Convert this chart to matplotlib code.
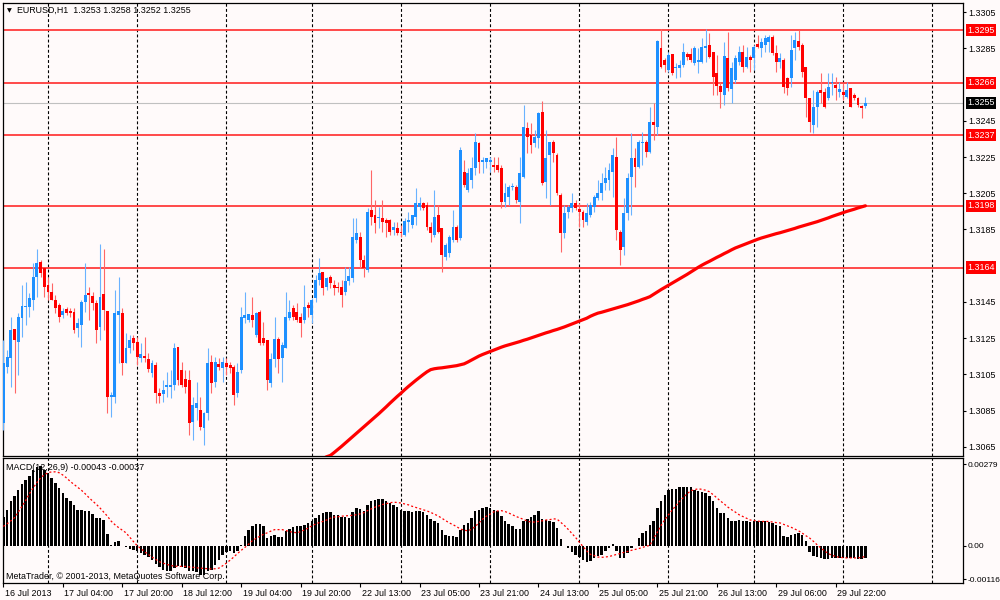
import numpy as np
import matplotlib
matplotlib.use("Agg")
import matplotlib.pyplot as plt
from matplotlib.transforms import blended_transform_factory, ScaledTranslation

plt.rcParams['font.family'] = ['Liberation Sans', 'DejaVu Sans']

# ---------------- data (prices as pips above 1.3000) ----------------
BASE = 1.3
PIP = 0.0001

open_pips = [
    78, 109.2, 113.8, 130, 123, 135.9, 142, 142.3, 146, 158.9,
    166.8, 163.5, 154.3, 150.6, 146, 143.3, 137.7, 140.9, 140, 139.6,
    130.4, 132.2, 145.1, 150, 148.2, 144.2, 131.3, 149.2, 140, 92.6,
    92.6, 137.7, 138.7, 111, 119.3, 124.8, 123, 113.8, 115.1, 113.2,
    105.5, 110.1, 94.5, 94.1, 98.1, 98.1, 99.1, 119.9, 107.4, 102.7,
    101.8, 78.8, 86.2, 85.2, 75.1, 83.4, 112, 100.9, 110.6, 108.3,
    111, 110.1, 109.2, 94.5, 107.4, 135.9, 135, 137.7, 126.7, 139.6,
    124.8, 123.9, 100, 113.3, 124.3, 113.8, 119.3, 135.9, 141.4, 139.6,
    136.8, 135, 143.3, 137.7, 147, 157.1, 161.7, 153.4, 158.9, 154.3,
    153.4, 153.4, 150.6, 156.7, 158, 179.2, 181.1, 168.2, 162.7, 195.8,
    193, 191.2, 191.2, 190.2, 190.2, 184.7, 186, 183.8, 182, 189.3,
    187.5, 192.1, 197.6, 199.5, 198.5, 186.6, 182, 193, 185.6, 170,
    171.8, 179.2, 186.6, 180.1, 217, 206.9, 212.4, 218.8, 232.6, 222.5,
    222.5, 222.5, 220.7, 220.7, 218.8, 200.4, 203.2, 208.7, 208.7, 200.4,
    214.2, 240.9, 237.2, 232.6, 235.4, 250.1, 211.5, 226.2, 233.6, 226.2,
    204.1, 182.9, 194.4, 196.7, 199.5, 196.2, 194.4, 189.3, 193, 197.6,
    202.3, 205, 210.5, 212.4, 217, 225.3, 183.8, 175.5, 194, 214.2,
    224.3, 219.7, 232.6, 233.6, 228, 244.2, 241.8, 285.1, 278.6, 273.1,
    282, 274.1, 274.4, 275.9, 282, 282, 276.8, 277.7, 277.7, 285.5,
    286.9, 282.9, 271.3, 264.5, 259.3, 279.6, 262.5, 267.6, 277.7, 283.2,
    275, 280.5, 279.6, 287.3, 285.1, 286.9, 288.8, 291.5, 282.3, 277.7,
    278.6, 268.5, 268.5, 285.1, 289.1, 286.9, 275, 257.5, 242.7, 252.9,
    262.1, 261.1, 257.5, 265.7, 264.8, 261.1, 261.1, 258.4, 263, 259.3,
    257.5, 253.4, 253,
]
high_pips = [
    124, 118.4, 136.8, 130, 138.7, 154.3, 156, 149.7, 166.3, 174.2,
    168.1, 163.5, 158.9, 155.2, 148.8, 144.2, 141.4, 142.3, 141.4, 141.4,
    135.9, 146, 166.3, 153.4, 150.6, 146, 177, 174.2, 140, 95,
    151.5, 158.9, 141.4, 127.6, 126.7, 126.7, 125.8, 122.1, 125.8, 116.6,
    112.9, 112, 97.2, 101.8, 106.4, 107.4, 122.1, 120.2, 112, 107.4,
    107.4, 92.6, 100.9, 92.6, 84.3, 119.3, 115.6, 114.7, 113.8, 114.7,
    113.8, 112, 110.1, 111, 142.4, 150.6, 138.6, 147.9, 139.6, 140.5,
    134.1, 123.9, 116.6, 136.8, 125.8, 123, 150.6, 146, 143.3, 144.2,
    138.7, 154.3, 145.1, 147, 159.9, 169.1, 161.7, 158.9, 159.9, 157.1,
    156.2, 157.1, 164.5, 164.5, 191.2, 191.2, 183.8, 170.9, 196.7, 217.9,
    201.3, 197.6, 201.3, 191.2, 190.6, 189.3, 189.3, 187.5, 191.2, 194.9,
    193, 207.7, 203.1, 200.4, 200.4, 189.3, 206.8, 198.5, 185.6, 177.4,
    182, 195.8, 187.5, 230.8, 223.4, 218.8, 225.3, 238.2, 233.6, 225.3,
    224.4, 225.3, 225.3, 225.3, 220.7, 210.5, 209.6, 210.5, 209.6, 225.3,
    253.8, 244.6, 243.7, 240, 250.1, 255.7, 240, 233.6, 234.5, 227.1,
    205, 198.6, 198.6, 205, 201.3, 199.5, 195.8, 199.5, 200.4, 204.1,
    212.4, 216.1, 219.7, 221.6, 229.9, 236.3, 184.7, 202.3, 216.1, 238.2,
    229.9, 234.5, 239.1, 234.5, 252.9, 254.7, 289.7, 295.8, 279.6, 283.2,
    282, 276.8, 278.6, 287.8, 283.2, 285.1, 286.6, 285.1, 290.6, 295.8,
    293.4, 282.9, 281.4, 266.7, 288.8, 294.3, 277.7, 281.4, 286.6, 286.9,
    286, 281.4, 286.9, 292.5, 290.6, 292.5, 292.5, 292.5, 286.9, 282.3,
    279.6, 269.4, 292.5, 294.3, 295.2, 287.8, 275, 257.5, 262, 262,
    271.3, 263, 271.3, 271.3, 269.4, 266.7, 265.7, 266.7, 263.3, 260.2,
    258.4, 253.8, 258,
]
low_pips = [
    74, 105.5, 98.1, 94.5, 104.6, 125.8, 132.2, 136.8, 140.5, 147.9,
    158.9, 147.9, 146, 146, 138.7, 134.1, 135.9, 137.7, 136.4, 127.6,
    125.8, 120.2, 139.6, 135, 140.5, 122.1, 123.9, 129.4, 83.4, 81.5,
    88.9, 111, 104.6, 111, 116.6, 118.4, 110.1, 112, 112, 106.4,
    103.7, 88.9, 88.9, 89.9, 92.6, 91.7, 96.3, 99.1, 98.1, 94.5,
    71.4, 68.7, 79.7, 74.2, 65.9, 79.7, 94.5, 98.1, 107.4, 100.9,
    104.6, 105.5, 88, 92.6, 105.5, 133.1, 134.1, 131.3, 125.8, 121.2,
    121.2, 96.3, 98.1, 109.2, 105.5, 100.9, 119.3, 135, 135, 134.1,
    125.8, 133.1, 136.8, 133.1, 145.1, 154.3, 148.8, 151.5, 152.5, 148.8,
    150.6, 142.4, 148.8, 154.3, 156.2, 177.4, 163.6, 159, 161.7, 187.5,
    182.9, 185.6, 183.8, 181.1, 182, 182, 182, 181.1, 181.4, 183.8,
    185.6, 187.5, 195.8, 195.8, 184.7, 178.3, 181.1, 182.9, 161.7, 168.2,
    170, 178.3, 178.3, 179.2, 208.7, 205.9, 207.8, 215.1, 216.1, 216.1,
    218.8, 217, 217, 217, 196.7, 197.6, 198.6, 206.9, 199.5, 188.4,
    213.3, 227.1, 227.1, 230.8, 229.9, 209.6, 202.3, 198.6, 222.5, 204.1,
    172.8, 180.1, 191.2, 194.9, 195.8, 186.6, 186.6, 187.5, 192.1, 194.9,
    201.3, 201.3, 206.9, 206.9, 203.2, 179.2, 165.4, 170.9, 190.3, 193,
    208.7, 218.8, 220.7, 225.3, 227.1, 234.5, 237.2, 274, 272.2, 272.2,
    270.4, 268.5, 269.4, 275, 278.6, 277.7, 275.9, 271.3, 276.8, 277.7,
    279.6, 259.3, 259.3, 251.9, 253.8, 261.5, 254.7, 265.7, 275.9, 272.2,
    274, 272.2, 273.1, 285.1, 280.5, 283.2, 283.2, 281.4, 272.2, 274,
    260.2, 259.3, 263.9, 278.6, 284.2, 269.4, 247.3, 239, 238.1, 241.8,
    254.7, 251.9, 256.5, 259.3, 256.5, 258.4, 256.5, 257.5, 252.5, 256.5,
    252.9, 246.4, 252,
]
close_pips = [
    111, 114.7, 129.4, 123.9, 136.8, 142.7, 142.7, 147, 158.9, 166.3,
    160.8, 153.4, 150.6, 146, 141.4, 136.4, 140, 138.7, 138.7, 129.4,
    133.1, 145.1, 148.8, 148.8, 144.2, 129.4, 147.9, 140.5, 92.6, 93.5,
    138.7, 140, 111, 119.3, 123.9, 122.1, 114.7, 116.2, 113.8, 107.7,
    111.4, 94.8, 93.2, 96.3, 99.1, 99, 119.3, 101.8, 99.1, 98.1,
    77.9, 88, 88.9, 76, 83.4, 111, 100, 112, 108.8, 112,
    108.8, 108.3, 93.5, 106.4, 136.8, 137.7, 138.1, 135, 138.7, 122.1,
    122.5, 101.8, 113.3, 124.3, 113.3, 121.2, 136.8, 139.6, 136.8, 135,
    133.1, 142.4, 141.4, 146, 157.1, 160.8, 152.5, 158, 155.2, 152.5,
    152.5, 148.8, 156.7, 159.3, 181.1, 182.9, 168.2, 163.6, 194.9, 192.1,
    188.4, 192.1, 189.3, 188.4, 183.8, 186.6, 183.3, 182.9, 189.9, 190.2,
    193, 199.5, 199.5, 196.7, 186.6, 182.9, 192.1, 183.8, 170.9, 176.4,
    181.1, 186.6, 179.2, 228.9, 209.6, 216, 218.8, 233.6, 222.5, 223.4,
    224.4, 223.4, 219.7, 217.9, 200.4, 205, 208.7, 209.2, 201.3, 216,
    241.8, 236.3, 231.7, 236.3, 249.2, 210.5, 224.3, 233.6, 227.1, 205,
    182.9, 194, 197.3, 199.5, 196.7, 194.4, 190.3, 194, 198.6, 203.2,
    205, 210.5, 213.3, 217.9, 226.2, 184.7, 173.7, 194, 213.3, 224.3,
    219.7, 233.6, 233, 228, 244.6, 242.8, 289.1, 275, 275.9, 281.4,
    271.3, 275, 275.9, 283.2, 280.5, 278.6, 285.1, 278.6, 286, 286.6,
    280.5, 269.4, 264.5, 260.8, 281, 263, 274.4, 279.6, 283.2, 275,
    280.5, 278.6, 286, 286, 288.8, 290.6, 291.5, 282.3, 277.7, 279.6,
    263.9, 263, 284.2, 289.7, 286, 272.2, 257.5, 244.6, 252.9, 261.1,
    260.2, 252.9, 263.9, 266.7, 263, 262.5, 259.3, 262.1, 252.9, 257.5,
    253.8, 252, 255,
]

# moving average (red thick line), first value belongs to bar ma_first_bar
ma_first_bar = 86
ma_pips = [
    58.5, 59.5, 60.2, 61.8, 63.5, 65.2, 67, 68.8, 70.6, 72.4,
    74.2, 76, 77.8, 79.6, 81.4, 83.2, 85.1, 87, 89, 90.9,
    92.8, 94.6, 96.5, 98.3, 100, 101.7, 103.3, 104.9, 106.4, 107.6,
    108.1, 108.4, 108.6, 108.9, 109.2, 109.5, 109.8, 110.3, 110.8, 111.8,
    112.9, 114, 115.1, 116, 116.8, 117.6, 118.4, 119.2, 120, 120.7,
    121.3, 121.9, 122.5, 123.1, 123.8, 124.4, 125.1, 125.8, 126.5, 127.2,
    127.9, 128.5, 129.2, 129.8, 130.5, 131.2, 132, 132.8, 133.6, 134.4,
    135.2, 136, 137.1, 138, 138.8, 139.3, 139.9, 140.5, 141.1, 141.7,
    142.3, 142.9, 143.5, 144.2, 144.9, 145.6, 146.4, 147.1, 147.9, 149.2,
    150.5, 151.8, 153, 154.2, 155.4, 156.6, 157.8, 159, 160.2, 161.5,
    162.8, 164.1, 165.3, 166.4, 167.4, 168.5, 169.6, 170.6, 171.7, 172.7,
    173.8, 174.8, 175.6, 176.4, 177.2, 178, 178.8, 179.6, 180.3, 180.9,
    181.5, 182.1, 182.7, 183.2, 183.8, 184.4, 185, 185.6, 186.3, 186.9,
    187.5, 188.1, 188.7, 189.3, 190, 190.7, 191.4, 192.2, 192.9, 193.6,
    194.3, 195, 195.6, 196.2, 196.9, 197.5, 198.1,
]

# MACD(12,26,9) main histogram and signal, in units of 0.0001
macd_e4 = [
    9.7, 12.3, 15.2, 16.9, 19.2, 21.1, 22.6, 23.8, 26.1, 26.9,
    27.2, 26.1, 24.9, 23.2, 21.5, 19.8, 18.1, 16.3, 15.2, 14.1,
    12.3, 12.1, 12.0, 11.8, 10.9, 9.5, 9.5, 8.9, 4.0, 0.3,
    1.3, 1.7, -0.2, -0.6, -1.0, -1.4, -1.9, -2.5, -3.3, -4.0,
    -4.8, -6.3, -7.4, -8.2, -8.6, -8.8, -7.7, -7.1, -7.4, -7.7,
    -8.6, -8.8, -9.0, -9.9, -10.2, -8.8, -8.2, -6.5, -4.8, -3.3,
    -2.2, -1.9, -2.5, -1.9, 0.1, 3.2, 5.5, 6.6, 7.4, 7.4,
    6.6, 2.6, 3.2, 3.8, 2.9, 2.9, 4.9, 5.8, 6.4, 6.6,
    6.6, 7.2, 7.8, 8.3, 9.5, 10.6, 11.2, 11.4, 11.4, 10.4,
    10.4, 9.7, 9.7, 9.5, 11.4, 12.9, 12.6, 11.8, 13.8, 15.2,
    15.8, 16.1, 16.1, 15.4, 14.6, 14.1, 13.1, 12.3, 12.0, 11.8,
    11.5, 11.8, 11.8, 11.5, 10.4, 9.1, 8.6, 7.8, 5.5, 3.8,
    3.2, 3.4, 2.9, 5.5, 7.0, 7.8, 9.5, 11.8, 12.3, 12.9,
    13.3, 12.9, 12.3, 11.8, 10.1, 8.6, 7.4, 6.6, 5.7, 5.7,
    8.3, 9.1, 9.7, 10.4, 11.8, 9.3, 8.9, 8.3, 8.0, 6.1,
    2.4, -0.2, -0.8, -2.2, -3.1, -4.0, -5.0, -5.6, -5.1, -4.2,
    -3.7, -3.1, -1.9, -0.8, 0.7, -1.9, -4.2, -4.2, -2.5, -0.8,
    -0.2, 2.6, 4.3, 5.1, 7.2, 8.6, 12.9, 15.4, 17.5, 19.0,
    19.5, 19.5, 20.0, 20.2, 20.2, 20.0, 19.2, 18.6, 18.4, 18.1,
    16.9, 15.2, 12.9, 11.2, 11.2, 9.5, 8.6, 8.6, 8.8, 8.3,
    8.3, 8.0, 8.3, 8.3, 8.3, 8.3, 8.1, 7.8, 7.2, 6.6,
    3.2, 2.9, 3.5, 4.0, 4.3, 3.5, 1.5, -2.2, -3.7, -4.0,
    -4.2, -4.5, -4.5, -4.2, -4.2, -4.2, -4.2, -4.2, -4.2, -4.2,
    -4.5, -4.5, -4.3,
]
signal_e4 = [
    6.6, 7.5, 8.5, 9.6, 11.5, 13.5, 15.5, 17.8, 19.8, 21.6,
    23.2, 24.3, 25, 25.3, 25.3, 25, 24.2, 23.2, 22, 21,
    20, 19, 17.8, 16.5, 15.3, 14.2, 12.9, 11.5, 10.1, 8.4,
    7.2, 6.2, 5.3, 4.4, 2.9, 1.4, 0, -1, -2.1, -3,
    -3.9, -4.7, -5.5, -6, -6.4, -6.8, -7, -7.1, -7.1, -7.1,
    -7.3, -7.4, -7.6, -7.7, -7.8, -7.9, -8, -7.9, -7.7, -6.9,
    -6, -5, -3.9, -2.7, -1.6, -0.6, 0.5, 1.7, 2.5, 3.2,
    3.9, 4.4, 5, 5.5, 5.5, 5.5, 5.2, 4.8, 4.6, 4.4,
    4.8, 5.4, 6, 6.8, 7.4, 7.9, 8.3, 8.8, 9.4, 9.8,
    9.9, 10.1, 10.2, 10.3, 10.4, 10.6, 10.9, 11.3, 12, 12.6,
    13.2, 13.6, 14.1, 14.4, 14.7, 14.9, 14.8, 14.6, 14.3, 14,
    13.5, 13.1, 12.7, 12.3, 11.9, 11.4, 10.8, 10.2, 9.4, 8.6,
    7.8, 7.2, 6.5, 5.7, 5.3, 5.1, 5.6, 6.6, 7.8, 9.1,
    10.1, 10.8, 11.6, 11.9, 12, 11.7, 11.2, 10.6, 10, 9.5,
    9, 8.4, 8.1, 8.1, 8.3, 8.5, 8.8, 8.9, 9.2, 9.1,
    8, 6.9, 5.6, 4.2, 2.8, 1.2, -0.3, -1.8, -3, -3.4,
    -3.9, -4, -3.9, -3.7, -3.4, -3, -2.7, -2.3, -2, -1.6,
    -1.3, -1, -0.6, -0.2, 0.1, 2.5, 4.6, 6.9, 8.9, 10.6,
    12.2, 13.7, 15.2, 16.5, 17.8, 18.8, 19.2, 19.5, 19.3, 19,
    18.5, 17.5, 16.4, 15.3, 14.3, 13.2, 12.3, 11.5, 10.6, 10,
    9.4, 8.8, 8.6, 8.4, 8.3, 8.3, 8.3, 8.1, 7.9, 7.8,
    7.3, 6.8, 6.3, 5.7, 5.1, 4.3, 3.4, 2.6, 1.5, 0.3,
    -0.8, -1.8, -2.7, -3.3, -3.7, -4, -4.1, -4.2, -4.2, -4.2,
    -4.2, -4, -3.7,
]

time_labels = ["16 Jul 2013", "17 Jul 04:00", "17 Jul 20:00", "18 Jul 12:00",
               "19 Jul 04:00", "19 Jul 20:00", "22 Jul 13:00", "23 Jul 05:00",
               "23 Jul 21:00", "24 Jul 13:00", "25 Jul 05:00", "25 Jul 21:00",
               "26 Jul 13:00", "29 Jul 06:00", "29 Jul 22:00"]
label_bars = [0, 16, 32, 48, 64, 80, 96, 112, 128, 144, 160, 176, 192, 208, 224]
day_separator_bars = [12, 36, 60, 83, 107, 131, 155, 179, 202, 226, 250]
level_prices = [1.3295, 1.3266, 1.3237, 1.3198, 1.3164]
bid_price = 1.3255
price_ticks = [1.3065, 1.3085, 1.3105, 1.3125, 1.3145, 1.3185, 1.3205,
               1.3225, 1.3245, 1.3285, 1.3305]
macd_ticks = [0.00279, 0.0, -0.00116]
macd_tick_labels = ["0.00279", "0.00", "-0.00116"]
header = "EURUSD,H1  1.3253 1.3258 1.3252 1.3255"
macd_header = "MACD(12,26,9) -0.00043 -0.00037"
copyright_text = "MetaTrader, \u00a9 2001-2013, MetaQuotes Software Corp."

# ---------------- styling ----------------
BG = "#FFFAFA"
BULL = "#1E90FF"
BEAR = "#FF0000"
BULL_WICK = "#6AB2FF"
BEAR_WICK = "#FF6666"
FS = 6.4

W, H = 1000, 600
fig = plt.figure(figsize=(W / 100, H / 100), dpi=100, facecolor=BG)


def px_axes(left, top, right, bottom):
    return fig.add_axes([left / W, 1 - bottom / H, (right - left) / W, (bottom - top) / H])


ax = px_axes(3, 3, 963, 456)
ax2 = px_axes(3, 458, 963, 583)

o = BASE + np.array(open_pips) * PIP
h = BASE + np.array(high_pips) * PIP
l = BASE + np.array(low_pips) * PIP
c = BASE + np.array(close_pips) * PIP
n = len(c)
idx = np.arange(n)
up = c >= o

XMIN, XMAX = -0.11, 258.27
for a in (ax, ax2):
    a.set_facecolor(BG)
    a.set_xlim(XMIN, XMAX)
    for s in a.spines.values():
        s.set_color("black")
        s.set_linewidth(0.9)
    for b in day_separator_bars:
        a.axvline(b, color="black", lw=0.8, ls=(0, (2.6, 2.0)), zorder=1)

ax.set_ylim(1.30599, 1.33101)
ax2.set_ylim(-0.00128, 0.003005)

# level lines
for lv in level_prices:
    ax.axhline(lv, color="#FF3B3B", lw=1.3, zorder=2)
ax.axhline(bid_price, color="#C0C0C0", lw=0.8, zorder=2)

# candles
ax.vlines(idx, l, h, colors=np.where(up, BULL_WICK, BEAR_WICK), lw=0.8, zorder=3)
body_bottom = np.minimum(o, c)
body_h = np.maximum(np.abs(c - o), 0.5 * PIP)
ax.bar(idx, body_h, bottom=body_bottom, width=0.78,
       color=np.where(up, BULL, BEAR), lw=0, zorder=4)

# moving average
ma_x = np.arange(ma_first_bar, ma_first_bar + len(ma_pips))
ax.plot(ma_x, BASE + np.array(ma_pips) * PIP, color="#FF0000", lw=2.3,
        solid_capstyle="round", zorder=5)

# price axis on the right
ax.yaxis.tick_right()
ax.set_yticks(price_ticks)
ax.set_yticklabels([f"{p:.4f}" for p in price_ticks])
ax.tick_params(axis="y", direction="out", length=2.5, width=0.8, pad=1.5,
               labelsize=FS, colors="black")
ax.set_xticks([])

trans = blended_transform_factory(ax.transAxes, ax.transData)
for lv in level_prices:
    ax.text(1.0045, lv, f"{lv:.4f}", transform=trans, ha="left", va="center",
            fontsize=FS, color="white", clip_on=False, zorder=10,
            bbox=dict(boxstyle="square,pad=0.18", fc="#FF0000", ec="none"))
ax.text(1.0045, bid_price, f"{bid_price:.4f}", transform=trans, ha="left",
        va="center", fontsize=FS, color="white", clip_on=False, zorder=10,
        bbox=dict(boxstyle="square,pad=0.18", fc="#000000", ec="none"))

# header
ax.text(7 / W, 1 - 10.5 / H, "\u25bc", transform=fig.transFigure, fontsize=4.5,
        family="DejaVu Sans", va="center", ha="left", color="black", zorder=6)
ax.text(17 / W, 1 - 10 / H, header, transform=fig.transFigure, fontsize=FS,
        va="center", ha="left", color="black", zorder=6)

# MACD panel
ax2.bar(idx, np.array(macd_e4) * 1e-4, width=0.66, color="black", lw=0, zorder=3)
ax2.plot(idx, np.array(signal_e4) * 1e-4, color="#FF0000", lw=0.9,
         ls=(0, (1.6, 1.8)), zorder=4)
ax2.text(6.5 / W, 1 - 467 / H, macd_header, transform=fig.transFigure,
         fontsize=FS, va="center", ha="left", color="black", zorder=2)
ax2.text(6.5 / W, 1 - 576.5 / H, copyright_text, transform=fig.transFigure,
         fontsize=FS, va="center", ha="left", color="black", zorder=2)

ax2.yaxis.tick_right()
ax2.set_yticks(macd_ticks)
ax2.set_yticklabels(macd_tick_labels)
ax2.tick_params(axis="y", direction="out", length=2.5, width=0.8, pad=0.8,
                labelsize=6.0, colors="black")

ax2.set_xticks(label_bars)
ax2.set_xticklabels(time_labels)
ax2.tick_params(axis="x", direction="out", length=3, width=0.8, pad=1.5,
                labelsize=FS, colors="black")
offset = ScaledTranslation(1.5 / 100, 0, fig.dpi_scale_trans)
for lab in ax2.get_xticklabels():
    lab.set_ha("left")
    lab.set_transform(lab.get_transform() + offset)

fig.savefig("out.png", dpi=100, facecolor=BG)
